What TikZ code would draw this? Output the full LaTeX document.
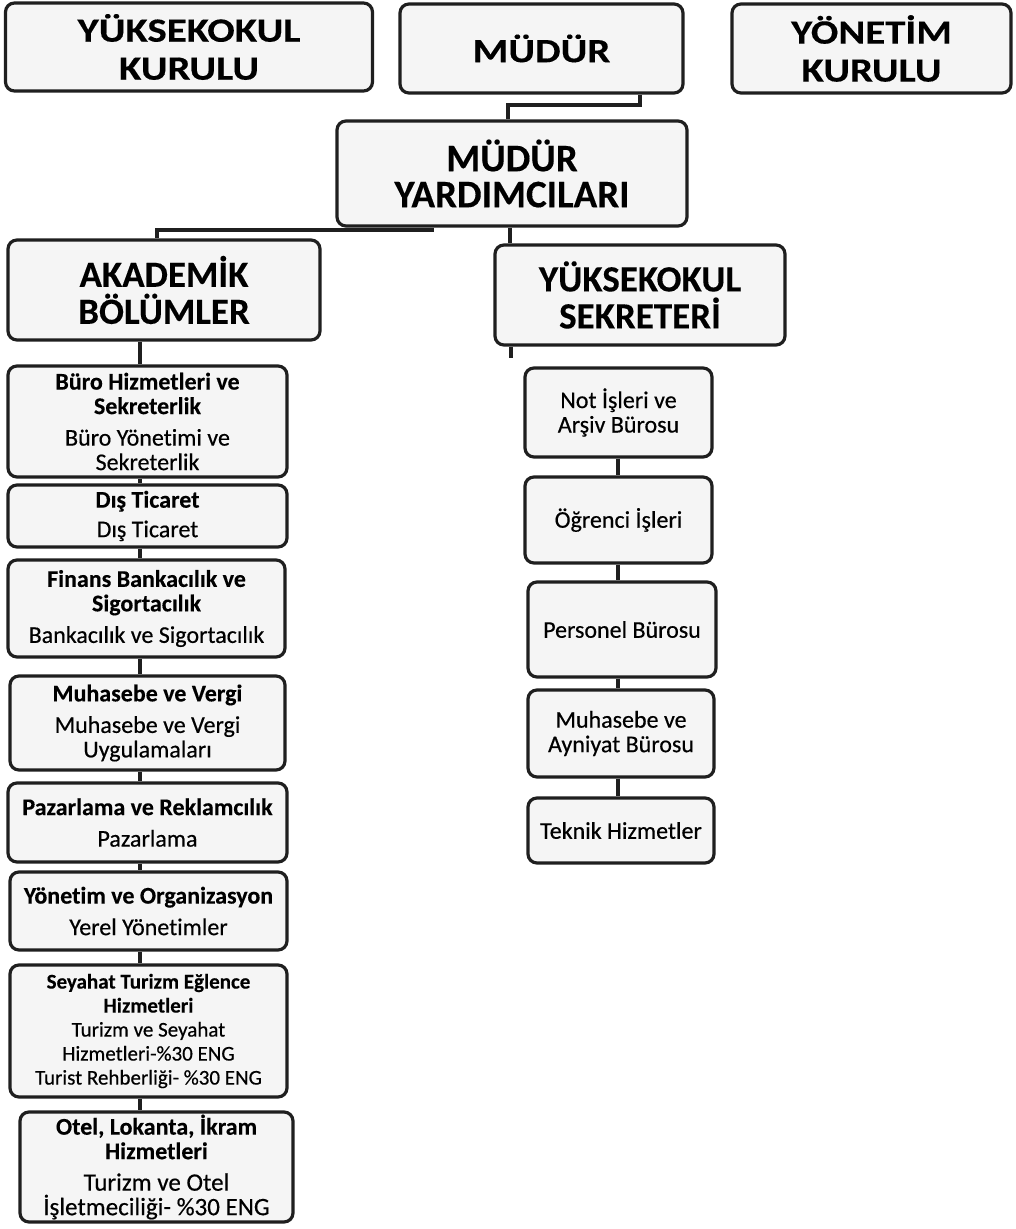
\documentclass[tikz,border=0pt]{standalone}
\usepackage{fontspec}
\setmainfont{Carlito}[Ligatures=NoCommon,UprightFeatures={FakeBold=0.45},BoldFeatures={FakeBold=0.25}]
\newfontfamily\widefont{Carlito}[Ligatures=NoCommon,FakeStretch=1.2,BoldFeatures={FakeBold=0.25}]
\begin{document}
\begin{tikzpicture}[x=1pt,y=-1pt,
  box/.style={draw=black!88, fill=black!4, line width=3.2pt, rounded corners=9pt, align=center, inner sep=0pt},
  big/.style={box, font=\fontsize{37}{37}\selectfont\bfseries},
  wide/.style={box, font=\widefont\fontsize{34}{38}\selectfont\bfseries},
  small/.style={box, font=\fontsize{24}{24.5}\selectfont},
  tiny/.style={box, font=\fontsize{21}{24}\selectfont},
  conn/.style={draw=black!88, line width=3.2pt}]
\useasboundingbox (0,0) rectangle (1015,1229);
\fill[white] (0,0) rectangle (1015,1229);
% top row
\node[wide, minimum width=367pt, minimum height=88pt] (yk) at (189,47) {YÜKSEKOKUL\\KURULU};
\node[wide, minimum width=283pt, minimum height=89pt] (mudur) at (541.5,48.5) {MÜDÜR};
\node[wide, minimum width=279pt, minimum height=89pt] (yon) at (871.5,48.5) {YÖNETİM\\KURULU};
\node[big, font=\fontsize{39}{36}\selectfont\bfseries, minimum width=350pt, minimum height=105pt] (my) at (512,173.5) {MÜDÜR\\YARDIMCILARI};
\node[big, minimum width=312pt, minimum height=100pt] (akad) at (164,290) {AKADEMİK\\BÖLÜMLER};
\node[big, minimum width=290pt, minimum height=100pt] (sekr) at (640,295) {YÜKSEKOKUL\\SEKRETERİ};
% left column
\node[small, minimum width=279pt, minimum height=111pt] (buro) at (147.5,421.5) {\textbf{Büro Hizmetleri ve}\\\textbf{Sekreterlik}\\[7pt]Büro Yönetimi ve\\Sekreterlik};
\node[small, minimum width=279pt, minimum height=62pt] (dis) at (147.5,516) {\textbf{Dış Ticaret}\\[5pt]Dış Ticaret};
\node[small, minimum width=277pt, minimum height=97pt] (fin) at (146.5,608.5) {\textbf{Finans Bankacılık ve}\\\textbf{Sigortacılık}\\[7pt]Bankacılık ve Sigortacılık};
\node[small, minimum width=275pt, minimum height=94pt] (muh) at (147.5,723) {\textbf{Muhasebe ve Vergi}\\[7pt]Muhasebe ve Vergi\\Uygulamaları};
\node[small, minimum width=279pt, minimum height=79pt] (paz) at (147.5,822.5) {\textbf{Pazarlama ve Reklamcılık}\\[7pt]Pazarlama};
\node[small, minimum width=277pt, minimum height=78pt] (yo) at (148.5,911) {\textbf{Yönetim ve Organizasyon}\\[7pt]Yerel Yönetimler};
\node[tiny, minimum width=277pt, minimum height=132pt] (sey) at (148.5,1031) {\textbf{Seyahat Turizm Eğlence}\\\textbf{Hizmetleri}\\Turizm ve Seyahat\\Hizmetleri-\%30 ENG\\Turist Rehberliği- \%30 ENG};
\node[small, minimum width=273pt, minimum height=110pt] (otel) at (156.5,1167) {\textbf{Otel, Lokanta, İkram}\\\textbf{Hizmetleri}\\[7pt]{\fontsize{25}{25}\selectfont Turizm ve Otel}\\{\fontsize{25}{25}\selectfont İşletmeciliği- \%30 ENG}};
% right column
\node[small, minimum width=187pt, minimum height=89pt] (not) at (618.5,412.5) {Not İşleri ve\\Arşiv Bürosu};
\node[small, minimum width=187pt, minimum height=86pt] (ogr) at (618.5,520) {Öğrenci İşleri};
\node[small, minimum width=188pt, minimum height=95pt] (per) at (622,629.5) {Personel Bürosu};
\node[small, minimum width=186pt, minimum height=87pt] (muhay) at (621,733.5) {Muhasebe ve\\Ayniyat Bürosu};
\node[small, minimum width=186pt, minimum height=65pt] (tek) at (621,830.5) {Teknik Hizmetler};
% connectors
\coordinate (j1) at (640,105);
\coordinate (j2) at (508,105);
\draw[conn] (mudur.south -| j1) -- (j1) -- (j2) -- (my.north -| j2);
\coordinate (j3) at (432,230);
\coordinate (j4) at (157,230);
\draw[conn] (my.south -| j3) -- (j3) -- (j4) -- (akad.north -| j4);
\coordinate (j5) at (510,0);
\draw[conn] (my.south -| j5) -- (sekr.north -| j5);
\coordinate (lx) at (140,0);
\draw[conn] (akad.south -| lx) -- (buro.north -| lx);
\draw[conn] (buro.south -| lx) -- (dis.north -| lx);
\draw[conn] (dis.south -| lx) -- (fin.north -| lx);
\draw[conn] (fin.south -| lx) -- (muh.north -| lx);
\draw[conn] (muh.south -| lx) -- (paz.north -| lx);
\draw[conn] (paz.south -| lx) -- (yo.north -| lx);
\draw[conn] (yo.south -| lx) -- (sey.north -| lx);
\draw[conn] (sey.south -| lx) -- (otel.north -| lx);
\coordinate (rx) at (618,0);
\coordinate (st) at (511,358);
\draw[conn] (sekr.south -| st) -- (st);
\draw[conn] (not.south -| rx) -- (ogr.north -| rx);
\draw[conn] (ogr.south -| rx) -- (per.north -| rx);
\draw[conn] (per.south -| rx) -- (muhay.north -| rx);
\draw[conn] (muhay.south -| rx) -- (tek.north -| rx);
\end{tikzpicture}
\end{document}
